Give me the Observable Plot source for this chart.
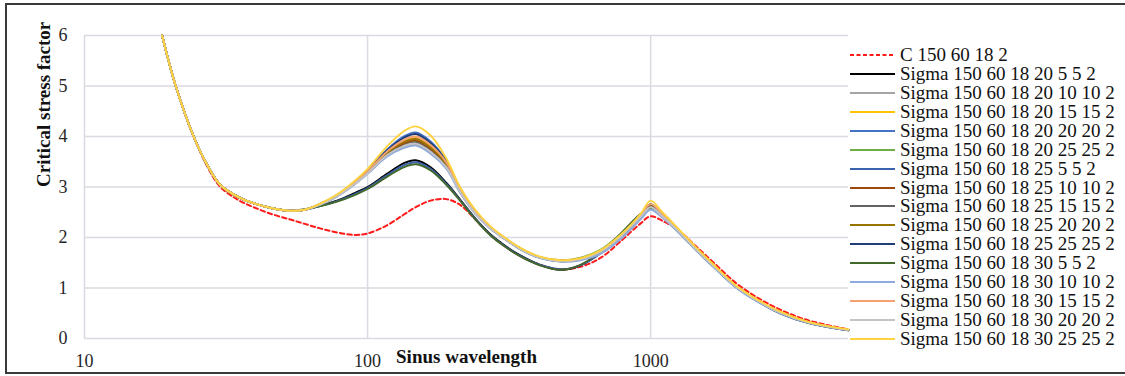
<!DOCTYPE html>
<html><head><meta charset="utf-8">
<script src="https://cdn.jsdelivr.net/npm/d3@7"></script>
<script src="https://cdn.jsdelivr.net/npm/@observablehq/plot@0.6"></script>
<style>
html,body{margin:0;padding:0;background:#fff;overflow:hidden;width:1125px;height:376px}
#wrap{position:relative;width:1125px;height:376px}
#frame{position:absolute;left:5px;top:3px;width:1130px;height:371px;border:2px solid #3a3a3a;box-sizing:border-box;pointer-events:none}
#chart{position:absolute;left:0;top:0}
#legend{position:absolute;left:850px;top:45.5px;font-family:"Liberation Serif",serif;font-size:19px;color:#111}
.row{display:flex;align-items:center;height:18.95px;white-space:nowrap}
.row svg{flex:none;margin-right:5px}
</style></head>
<body><div id="wrap"><div id="chart"></div><div id="legend"></div><div id="frame"></div></div>
<script>
// Sinus wavelength sample positions
const wavelength = [18.8, 21, 24.3, 27, 30.2, 35, 40, 46, 53, 60, 68, 78, 90, 100, 117, 134, 148, 167, 190, 213, 240, 272, 300, 345, 406, 481, 565, 667, 785, 922, 1000, 1100, 1250, 1450, 1700, 2000, 2400, 2900, 3600, 5000];

const xTicks = [10, 100, 1000];
const yTicks = [0, 1, 2, 3, 4, 5, 6];
const xTitle = "Sinus wavelength";
const yTitle = "Critical stress factor";

const c_150_60_18_2 = [6.0, 5.0, 4.0, 3.43, 3.0, 2.74, 2.59, 2.46, 2.36, 2.27, 2.18, 2.1, 2.05, 2.08, 2.24, 2.45, 2.6, 2.73, 2.76, 2.64, 2.36, 2.05, 1.86, 1.64, 1.46, 1.37, 1.42, 1.6, 1.93, 2.28, 2.42, 2.33, 2.15, 1.82, 1.46, 1.10, 0.80, 0.56, 0.36, 0.18];

const s_20_5_5 = [6.0, 5.0, 4.0, 3.46, 3.04, 2.8, 2.67, 2.58, 2.53, 2.55, 2.63, 2.73, 2.88, 3.0, 3.26, 3.47, 3.53, 3.39, 3.08, 2.74, 2.38, 2.06, 1.87, 1.65, 1.46, 1.36, 1.45, 1.7, 2.05, 2.45, 2.63, 2.45, 2.14, 1.77, 1.40, 1.03, 0.74, 0.50, 0.32, 0.17];
const s_20_10_10 = [6.0, 5.0, 4.0, 3.46, 3.04, 2.8, 2.67, 2.58, 2.53, 2.55, 2.65, 2.82, 3.06, 3.27, 3.62, 3.8, 3.85, 3.69, 3.38, 2.88, 2.48, 2.18, 2.0, 1.78, 1.6, 1.53, 1.57, 1.72, 2.02, 2.41, 2.6, 2.42, 2.13, 1.76, 1.39, 1.03, 0.74, 0.50, 0.32, 0.17];
const s_20_15_15 = [6.0, 5.0, 4.0, 3.46, 3.04, 2.8, 2.67, 2.58, 2.53, 2.55, 2.66, 2.83, 3.09, 3.31, 3.7, 3.92, 3.98, 3.81, 3.47, 2.93, 2.51, 2.2, 2.02, 1.79, 1.61, 1.54, 1.58, 1.73, 2.03, 2.43, 2.66, 2.46, 2.15, 1.78, 1.41, 1.04, 0.75, 0.51, 0.33, 0.17];
const s_20_20_20 = [6.0, 5.0, 4.0, 3.46, 3.04, 2.8, 2.67, 2.58, 2.53, 2.55, 2.66, 2.84, 3.1, 3.33, 3.74, 4.0, 4.08, 3.9, 3.51, 2.95, 2.52, 2.2, 2.01, 1.78, 1.6, 1.53, 1.56, 1.71, 2.01, 2.4, 2.62, 2.41, 2.12, 1.75, 1.38, 1.02, 0.73, 0.49, 0.31, 0.16];
const s_20_25_25 = [6.0, 5.0, 4.0, 3.46, 3.04, 2.8, 2.67, 2.58, 2.53, 2.55, 2.66, 2.83, 3.08, 3.29, 3.65, 3.84, 3.9, 3.73, 3.41, 2.9, 2.49, 2.19, 2.01, 1.79, 1.61, 1.55, 1.6, 1.76, 2.07, 2.45, 2.6, 2.42, 2.13, 1.76, 1.39, 1.03, 0.74, 0.50, 0.32, 0.17];
const s_25_5_5 = [6.0, 5.0, 4.0, 3.46, 3.04, 2.8, 2.67, 2.58, 2.53, 2.55, 2.62, 2.72, 2.86, 2.98, 3.23, 3.43, 3.49, 3.36, 3.06, 2.73, 2.37, 2.05, 1.86, 1.64, 1.46, 1.37, 1.45, 1.69, 2.03, 2.43, 2.6, 2.42, 2.12, 1.75, 1.38, 1.02, 0.73, 0.49, 0.31, 0.16];
const s_25_10_10 = [6.0, 5.0, 4.0, 3.46, 3.04, 2.8, 2.67, 2.58, 2.53, 2.55, 2.66, 2.83, 3.08, 3.3, 3.66, 3.86, 3.92, 3.75, 3.43, 2.91, 2.5, 2.19, 2.01, 1.78, 1.6, 1.54, 1.58, 1.73, 2.03, 2.42, 2.62, 2.43, 2.14, 1.77, 1.40, 1.03, 0.74, 0.50, 0.32, 0.17];
const s_25_15_15 = [6.0, 5.0, 4.0, 3.46, 3.04, 2.8, 2.67, 2.58, 2.53, 2.55, 2.65, 2.82, 3.07, 3.28, 3.64, 3.82, 3.88, 3.71, 3.4, 2.89, 2.49, 2.18, 2.0, 1.78, 1.6, 1.54, 1.58, 1.73, 2.03, 2.42, 2.64, 2.44, 2.14, 1.77, 1.40, 1.03, 0.74, 0.50, 0.32, 0.17];
const s_25_20_20 = [6.0, 5.0, 4.0, 3.46, 3.04, 2.8, 2.67, 2.58, 2.53, 2.55, 2.66, 2.83, 3.08, 3.3, 3.67, 3.89, 3.95, 3.78, 3.45, 2.92, 2.5, 2.2, 2.02, 1.79, 1.61, 1.54, 1.58, 1.74, 2.04, 2.44, 2.64, 2.45, 2.15, 1.78, 1.41, 1.04, 0.75, 0.51, 0.33, 0.17];
const s_25_25_25 = [6.0, 5.0, 4.0, 3.46, 3.04, 2.8, 2.67, 2.58, 2.53, 2.55, 2.66, 2.84, 3.1, 3.32, 3.72, 3.97, 4.05, 3.87, 3.5, 2.94, 2.52, 2.2, 2.01, 1.78, 1.6, 1.53, 1.57, 1.72, 2.02, 2.42, 2.66, 2.44, 2.14, 1.77, 1.40, 1.03, 0.74, 0.50, 0.32, 0.17];
const s_30_5_5 = [6.0, 5.0, 4.0, 3.46, 3.04, 2.8, 2.67, 2.58, 2.53, 2.56, 2.62, 2.71, 2.84, 2.96, 3.2, 3.39, 3.45, 3.33, 3.04, 2.72, 2.36, 2.04, 1.85, 1.63, 1.45, 1.36, 1.46, 1.72, 2.08, 2.47, 2.57, 2.41, 2.12, 1.75, 1.38, 1.02, 0.73, 0.49, 0.31, 0.16];
const s_30_10_10 = [6.0, 5.0, 4.0, 3.46, 3.04, 2.8, 2.67, 2.58, 2.53, 2.55, 2.65, 2.81, 3.05, 3.26, 3.6, 3.77, 3.82, 3.66, 3.36, 2.87, 2.47, 2.17, 2.0, 1.77, 1.59, 1.52, 1.55, 1.68, 1.97, 2.36, 2.55, 2.39, 2.11, 1.74, 1.37, 1.01, 0.72, 0.49, 0.31, 0.16];
const s_30_15_15 = [6.0, 5.0, 4.0, 3.46, 3.04, 2.8, 2.67, 2.58, 2.53, 2.55, 2.66, 2.84, 3.09, 3.31, 3.7, 3.93, 4.0, 3.83, 3.48, 2.93, 2.51, 2.2, 2.02, 1.79, 1.61, 1.54, 1.58, 1.74, 2.04, 2.44, 2.66, 2.46, 2.15, 1.78, 1.41, 1.04, 0.75, 0.51, 0.33, 0.17];
const s_30_20_20 = [6.0, 5.0, 4.0, 3.46, 3.04, 2.8, 2.67, 2.58, 2.53, 2.55, 2.65, 2.82, 3.06, 3.27, 3.63, 3.81, 3.86, 3.7, 3.39, 2.89, 2.48, 2.18, 2.0, 1.78, 1.6, 1.53, 1.57, 1.72, 2.02, 2.41, 2.6, 2.42, 2.13, 1.76, 1.39, 1.03, 0.74, 0.50, 0.32, 0.17];
const s_30_25_25 = [6.0, 5.0, 4.0, 3.46, 3.04, 2.8, 2.67, 2.58, 2.53, 2.55, 2.67, 2.85, 3.12, 3.36, 3.8, 4.1, 4.2, 4.02, 3.56, 2.98, 2.55, 2.22, 2.03, 1.8, 1.62, 1.55, 1.59, 1.75, 2.06, 2.47, 2.73, 2.5, 2.18, 1.8, 1.42, 1.05, 0.76, 0.52, 0.33, 0.18];

const seriesNames = [
  "C 150 60 18 2",
  "Sigma 150 60 18 20 5 5 2", "Sigma 150 60 18 20 10 10 2", "Sigma 150 60 18 20 15 15 2",
  "Sigma 150 60 18 20 20 20 2", "Sigma 150 60 18 20 25 25 2", "Sigma 150 60 18 25 5 5 2",
  "Sigma 150 60 18 25 10 10 2", "Sigma 150 60 18 25 15 15 2", "Sigma 150 60 18 25 20 20 2",
  "Sigma 150 60 18 25 25 25 2", "Sigma 150 60 18 30 5 5 2", "Sigma 150 60 18 30 10 10 2",
  "Sigma 150 60 18 30 15 15 2", "Sigma 150 60 18 30 20 20 2", "Sigma 150 60 18 30 25 25 2"
];
const seriesValues = [c_150_60_18_2, s_20_5_5, s_20_10_10, s_20_15_15, s_20_20_20, s_20_25_25, s_25_5_5,
  s_25_10_10, s_25_15_15, s_25_20_20, s_25_25_25, s_30_5_5, s_30_10_10, s_30_15_15, s_30_20_20, s_30_25_25];
const seriesColors = ["#ff1a1a", "#000000", "#a5a5a5", "#ffc000", "#4472c4", "#70ad47", "#3a62ad",
  "#9e480e", "#636363", "#997300", "#203f78", "#43682b", "#8faadc", "#f4a070", "#c4c4c4", "#ffd23f"];

const rows = [];
seriesNames.forEach((name, i) => {
  seriesValues[i].forEach((v, j) => rows.push({series: name, x: wavelength[j], y: v}));
});
const dashed = rows.filter(d => d.series === seriesNames[0]);
const solid = rows.filter(d => d.series !== seriesNames[0]);

const gridColor = "#d9dae2";
const chart = Plot.plot({
  width: 1125, height: 376,
  marginLeft: 84, marginRight: 277, marginTop: 35, marginBottom: 38,
  x: {type: "log", domain: [10, 5000]},
  y: {domain: [0, 6]},
  color: {domain: seriesNames, range: seriesColors},
  style: {fontFamily: "'Liberation Serif', serif", fontSize: "18px", color: "#262626", background: "transparent"},
  marks: [
    Plot.gridY(yTicks, {stroke: gridColor, strokeOpacity: 1, strokeWidth: 1.5}),
    Plot.gridX(xTicks, {stroke: gridColor, strokeOpacity: 1, strokeWidth: 1.5}),
    Plot.axisY(yTicks, {tickSize: 0, tickPadding: 17, label: null, fontSize: 18, tickFormat: d => String(d)}),
    Plot.axisX(xTicks, {tickSize: 0, tickPadding: 16, label: null, fontSize: 18, tickFormat: d => String(d)}),
    Plot.line(dashed, {x: "x", y: "y", z: "series", stroke: "series", strokeWidth: 2, strokeDasharray: "4.5,3", curve: "catmull-rom"}),
    Plot.line(solid, {x: "x", y: "y", z: "series", stroke: "series", strokeWidth: 1.9, curve: "catmull-rom"}),
    Plot.text([xTitle], {frameAnchor: "bottom", dy: 24, text: d => d, fontWeight: "bold", fontSize: 19, fill: "#111"}),
    Plot.text([yTitle], {frameAnchor: "left", dx: -41, rotate: -90, text: d => d, fontWeight: "bold", fontSize: 19, fill: "#111"})
  ]
});
document.getElementById("chart").appendChild(chart);

const legend = d3.select("#legend");
seriesNames.forEach((name, i) => {
  const row = legend.append("div").attr("class", "row");
  const svg = row.append("svg").attr("width", 45).attr("height", 10);
  const ln = svg.append("line").attr("x1", 0).attr("x2", 45).attr("y1", 5).attr("y2", 5)
    .attr("stroke", seriesColors[i]).attr("stroke-width", 2);
  if (i === 0) ln.attr("stroke-dasharray", "4,2.5");
  row.append("span").text(name);
});
</script>
</body></html>
